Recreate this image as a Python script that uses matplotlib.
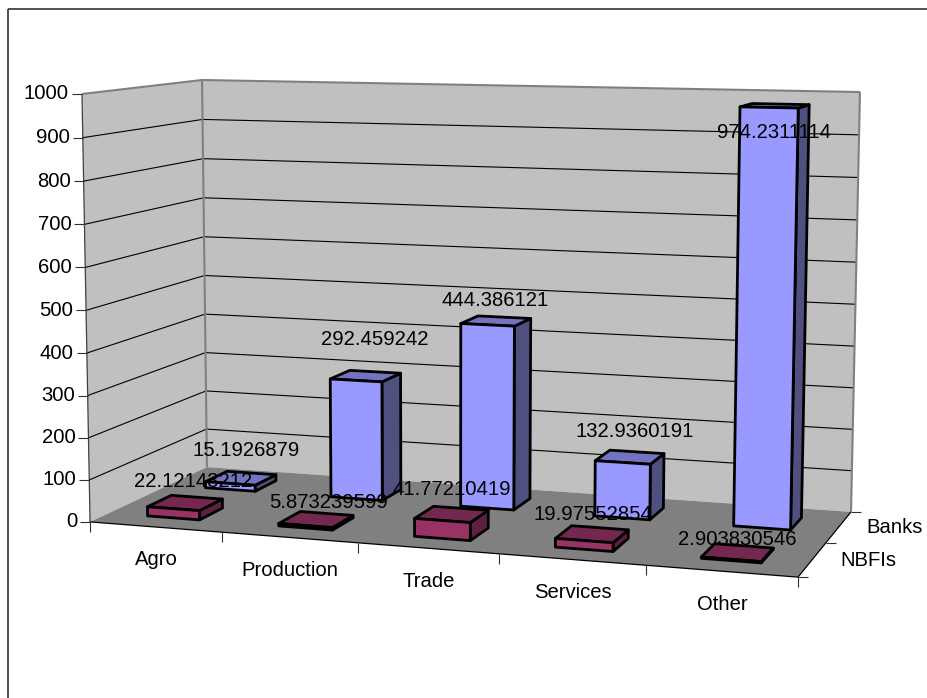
import numpy as np
import matplotlib
matplotlib.use("Agg")
import matplotlib.pyplot as plt
from matplotlib.patches import Polygon

plt.rcParams['font.family'] = ['Liberation Sans', 'DejaVu Sans']

categories = ['Agro', 'Production', 'Trade', 'Services', 'Other']
series_names = ['NBFIs', 'Banks']
nbfis = [22.12143212, 5.873239599, 41.77210419, 19.97552854, 2.903830546]
banks = [15.1926879, 292.459242, 444.386121, 132.9360191, 974.2311114]
y_ticks = [0, 100, 200, 300, 400, 500, 600, 700, 800, 900, 1000]

# label offsets from the bar top centre, in pixels
nbfi_offsets = [(8, -21), (12, -17), (0, -25), (1, -20), (0, -13)]
bank_offsets = [(5, -28), (9, -37), (-1, -20), (5, -26), (-1, 27)]

W, H = 927, 698
FONT = 14.6
GAP = 0.3  # share of a category left empty on each side of a bar

# box corners: (category, depth, value) -> pixel
corners = [
    ((0, 0, 0), (90, 522)),
    ((5, 0, 0), (798, 577)),
    ((5, 2, 0), (851, 512)),
    ((0, 2, 0), (207, 467)),
    ((0, 0, 1000), (82, 94)),
    ((0, 2, 1000), (202, 80)),
    ((5, 2, 1000), (860, 92)),
]


def fit_camera(pairs):
    rows, rhs = [], []
    for (x, y, z), (u, v) in pairs:
        z = z / 1000
        rows.append([x, y, z, 1, 0, 0, 0, 0, -u * x, -u * y, -u * z])
        rows.append([0, 0, 0, 0, x, y, z, 1, -v * x, -v * y, -v * z])
        rhs += [u, v]
    p = np.linalg.lstsq(np.array(rows, float), np.array(rhs, float), rcond=None)[0]
    return np.append(p, 1).reshape(3, 4)


cam = fit_camera(corners)


def proj(x, y, z):
    q = cam @ np.array([x, y, z / 1000, 1])
    return q[0] / q[2], q[1] / q[2]


def face(ax, pts, fc, ec='none', lw=0, z=1):
    ax.add_patch(Polygon([proj(*p) for p in pts], closed=True, facecolor=fc,
                         edgecolor=ec, linewidth=lw, joinstyle='round', zorder=z))


def line(ax, a, b, color='black', lw=0.8, z=2):
    ax.plot([a[0], b[0]], [a[1], b[1]], color=color, lw=lw, zorder=z,
            solid_capstyle='butt')


def bar(ax, cat, row, value, front, side, top, z):
    x0, x1 = cat + GAP, cat + 1 - GAP
    y0, y1 = row + GAP, row + 1 - GAP
    face(ax, [(x1, y0, 0), (x1, y1, 0), (x1, y1, value), (x1, y0, value)], side, 'black', 2.0, z)
    face(ax, [(x0, y0, value), (x1, y0, value), (x1, y1, value), (x0, y1, value)], top, 'black', 2.0, z)
    face(ax, [(x0, y0, 0), (x1, y0, 0), (x1, y0, value), (x0, y0, value)], front, 'black', 2.0, z)


fig = plt.figure(figsize=(W / 100, H / 100), dpi=100, facecolor='white')
ax = fig.add_axes([0, 0, 1, 1])
ax.set_xlim(0, W)
ax.set_ylim(H, 0)
ax.axis('off')

# chart area border only shows along the top and left
line(ax, (8.5, 9), (8.5, H), '#202020', 1.1, 0)
line(ax, (8, 9), (W, 9), '#202020', 1.1, 0)

# walls and floor
face(ax, [(0, 0, 0), (0, 2, 0), (0, 2, 1000), (0, 0, 1000)], '#C0C0C0')
face(ax, [(0, 2, 0), (5, 2, 0), (5, 2, 1000), (0, 2, 1000)], '#C0C0C0')
face(ax, [(0, 0, 0), (5, 0, 0), (5, 2, 0), (0, 2, 0)], '#808080')

for t in y_ticks[1:-1]:
    line(ax, proj(0, 0, t), proj(0, 2, t))
    line(ax, proj(0, 2, t), proj(5, 2, t))

# wall outlines
line(ax, proj(0, 0, 1000), proj(0, 2, 1000), '#808080', 1.5)
line(ax, proj(0, 2, 1000), proj(5, 2, 1000), '#808080', 1.5)
line(ax, proj(5, 2, 1000), proj(5, 2, 0), '#808080', 1.5)
line(ax, proj(0, 2, 1000), proj(0, 2, 0), '#808080', 1.5)
line(ax, proj(0, 0, 0), proj(0, 0, 1000), '#404040', 0.9)

# axes and ticks
line(ax, proj(0, 0, 0), proj(5, 0, 0), 'black', 0.9)
line(ax, proj(5, 0, 0), proj(5, 2, 0), 'black', 0.9)
for t in y_ticks:
    u, v = proj(0, 0, t)
    line(ax, (u - 10, v), (u, v), '#303030', 0.8)
    ax.text(u - 13, v, str(t), ha='right', va='center', fontsize=FONT, color='black', zorder=6)
for i in range(len(categories) + 1):
    u, v = proj(i, 0, 0)
    line(ax, (u, v), (u, v + 10), '#303030', 0.8)
for i, name in enumerate(categories):
    u, v = proj(i + 0.5, 0, 0)
    ax.text(u + 1, v + 33, name, ha='center', va='center', fontsize=FONT, color='black', zorder=6)
for i in range(len(series_names) + 1):
    u, v = proj(5, i, 0)
    line(ax, (u, v), (u + 10, v), '#303030', 0.8)
for i, name in enumerate(series_names):
    u, v = proj(5, i + 0.5, 0)
    ax.text(u + 28, v + 1, name, ha='left', va='center', fontsize=FONT, color='black', zorder=6)

# back row first so the front row overlaps it
for i, val in enumerate(banks):
    bar(ax, i, 1, val, '#9999FF', '#4F4F80', '#7373BF', 3 + i * 0.01)
for i, val in enumerate(nbfis):
    bar(ax, i, 0, val, '#993366', '#5E2040', '#75284F', 4 + i * 0.01)

for vals, row, offs in [(nbfis, 0, nbfi_offsets), (banks, 1, bank_offsets)]:
    for i, val in enumerate(vals):
        u, v = proj(i + 0.5, row + 0.5, val)
        ax.text(u + offs[i][0], v + offs[i][1], str(val), ha='center', va='center',
                fontsize=FONT, color='black', zorder=7)

fig.savefig('out.png', dpi=100, facecolor='white')
